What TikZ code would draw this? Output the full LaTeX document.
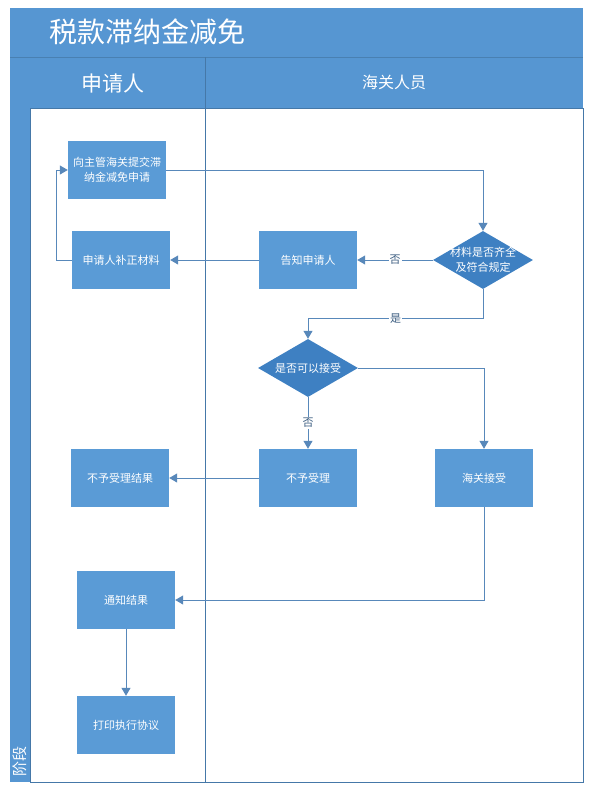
\documentclass[tikz,border=0pt]{standalone}
\usepackage{fontspec}
\setmainfont{Noto Sans CJK SC}
\usetikzlibrary{shapes.geometric,arrows.meta}
\definecolor{laneblue}{RGB}{86,150,210}
\definecolor{boxblue}{RGB}{90,155,214}
\definecolor{diablue}{RGB}{62,128,194}
\definecolor{linkblue}{RGB}{88,136,186}
\begin{document}
\begin{tikzpicture}
  [x=1pt,y=-1pt,
  stepbox/.style={rectangle,fill=boxblue,text=white,minimum width=98pt,
    minimum height=58pt,align=center,font=\fontsize{11}{15}\selectfont},
  decision/.style={diamond,fill=diablue,minimum width=100pt,minimum height=58pt},
  inside/.style={text=white,align=center,font=\fontsize{11}{15}\selectfont},
  link/.style={draw=linkblue,line width=1pt,-{Triangle[width=9pt,length=8pt]}},
  answer/.style={fill=white,inner sep=1pt,text=linkblue!70!black,
    font=\fontsize{11}{13}\selectfont}]
  \useasboundingbox[fill=white] (0,0) rectangle (590,787);
  % swimlane frame
  \fill[laneblue] (10,8) rectangle (583,108);
  \fill[laneblue] (10,57) rectangle (30,782);
  \draw[laneblue!85!black,line width=0.5pt] (10,57) -- (583,57);
  \draw[laneblue!80!black,line width=1pt] (30,108) rectangle (583,782);
  \draw[laneblue!80!black,line width=1pt] (205,57) -- (205,782);
  \node[anchor=west,text=white,font=\fontsize{28}{30}\selectfont] (title) at (46,32) {税款滞纳金减免};
  \node[text=white,font=\fontsize{21}{24}\selectfont] (lane1) at (113,84) {申请人};
  \node[text=white,font=\fontsize{16}{18}\selectfont] (lane2) at (394,82) {海关人员};
  \node[rotate=90,anchor=west,text=white,font=\fontsize{15}{16}\selectfont] (phase) at (20,780) {阶段};
  % steps
  \node[stepbox] (apply) at (117,170) {向主管海关提交滞\\纳金减免申请};
  \node[stepbox] (amend) at (121,260) {申请人补正材料};
  \node[stepbox] (notify) at (308,260) {告知申请人};
  \node[decision,label={[inside]center:材料是否齐全\\及符合规定}] (check) at (483,260) {};
  \node[decision,label={[inside]center:是否可以接受}] (accept) at (308,368) {};
  \node[stepbox] (reject) at (308,478) {不予受理};
  \node[stepbox] (admit) at (484,478) {海关接受};
  \node[stepbox] (rejectres) at (120,478) {不予受理结果};
  \node[stepbox] (inform) at (126,600) {通知结果};
  \node[stepbox] (print) at (126,725) {打印执行协议};
  % flow
  \draw[link] (apply) -| (check);
  \draw[link] (check) -- node[answer] {否} (notify);
  \draw[link] (notify) -- (amend);
  \draw[link] (amend.west) -- ++(-15,0) |- (apply);
  \draw[link] (check.south) -- ++(0,29) -| node[answer,pos=0.25] {是} (accept.north);
  \draw[link] (accept) -- node[answer] {否} (reject);
  \draw[link] (accept) -| (admit);
  \draw[link] (reject) -- (rejectres);
  \draw[link] (admit) |- (inform);
  \draw[link] (inform) -- (print);
\end{tikzpicture}
\end{document}
